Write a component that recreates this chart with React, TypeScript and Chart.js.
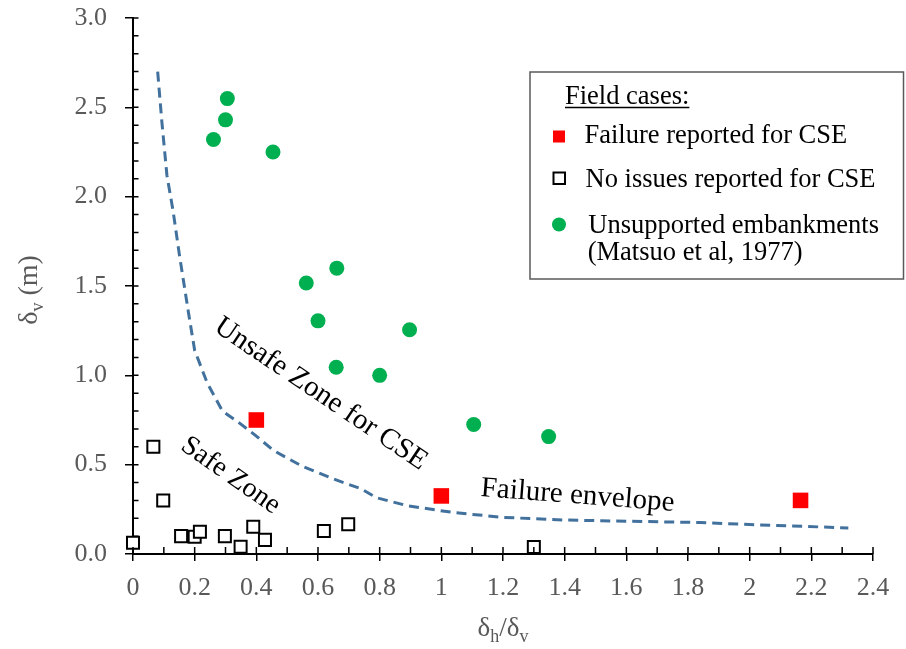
import React, { useEffect, useRef } from 'react';
import { Chart, registerables } from 'chart.js';

Chart.register(...registerables);

// ---------- data ----------
const envelopeX = [0.08, 0.093, 0.11, 0.13, 0.15, 0.18, 0.2, 0.24, 0.29, 0.34, 0.4, 0.455, 0.55, 0.65, 0.74, 0.79, 0.89, 1.04, 1.2, 1.4, 1.84, 2.0, 2.32];
const envelopeY = [2.7, 2.43, 2.12, 1.92, 1.68, 1.35, 1.14, 0.96, 0.8, 0.74, 0.66, 0.58, 0.49, 0.42, 0.365, 0.315, 0.27, 0.232, 0.205, 0.19, 0.176, 0.165, 0.146];

const failX = [0.4, 1.0, 2.165];
const failY = [0.75, 0.325, 0.3];

const noIssueX = [0, 0.066, 0.098, 0.156, 0.2, 0.217, 0.298, 0.349, 0.39, 0.428, 0.619, 0.698, 1.3];
const noIssueY = [0.063, 0.6, 0.3, 0.1, 0.096, 0.124, 0.1, 0.04, 0.153, 0.079, 0.129, 0.167, 0.039];

const embankX = [0.306, 0.3, 0.261, 0.454, 0.661, 0.562, 0.6, 0.897, 0.659, 0.8, 1.105, 1.348];
const embankY = [2.549, 2.43, 2.32, 2.25, 1.6, 1.517, 1.305, 1.255, 1.045, 1.0, 0.725, 0.657];

const xTickValues = [0, 0.2, 0.4, 0.6, 0.8, 1, 1.2, 1.4, 1.6, 1.8, 2, 2.2, 2.4];
const xTickLabels = ['0', '0.2', '0.4', '0.6', '0.8', '1', '1.2', '1.4', '1.6', '1.8', '2', '2.2', '2.4'];
const yTickValues = [0, 0.5, 1, 1.5, 2, 2.5, 3];
const yTickLabels = ['0.0', '0.5', '1.0', '1.5', '2.0', '2.5', '3.0'];
const xMinorTicks = [0, 0.1, 0.2, 0.3, 0.4, 0.5, 0.6, 0.7, 0.8, 0.9, 1, 1.1, 1.2, 1.3, 1.4, 1.5, 1.6, 1.7, 1.8, 1.9, 2, 2.1, 2.2, 2.3, 2.4];
const yMinorTicks = [0, 0.1, 0.2, 0.3, 0.4, 0.5, 0.6, 0.7, 0.8, 0.9, 1, 1.1, 1.2, 1.3, 1.4, 1.5, 1.6, 1.7, 1.8, 1.9, 2, 2.1, 2.2, 2.3, 2.4, 2.5, 2.6, 2.7, 2.8, 2.9, 3];

const legendTitle = 'Field cases:';
const legendLabels = ['Failure reported for CSE', 'No issues reported for CSE', 'Unsupported embankments', '(Matsuo et al, 1977)'];

const annotations = [
  { text: 'Unsafe Zone for CSE', x: 0.595, y: 0.86, angle: 34, size: 29 },
  { text: 'Safe Zone', x: 0.303, y: 0.405, angle: 35, size: 28 },
  { text: 'Failure envelope', x: 1.44, y: 0.283, angle: 4.4, size: 29 },
];

// ---------- styles ----------
const FONT = '"Liberation Serif", "Times New Roman", serif';
const GRAY = '#595959';
const RED = '#ff0000';
const GREEN = '#00b050';
const BLUE = '#41719c';

type Part = { t: string; s: number; dy?: number };

function partsWidth(ctx: CanvasRenderingContext2D, parts: Part[]) {
  let w = 0;
  for (const p of parts) {
    ctx.font = `${p.s}px ${FONT}`;
    w += ctx.measureText(p.t).width;
  }
  return w;
}
function drawParts(ctx: CanvasRenderingContext2D, parts: Part[], x: number, y: number) {
  let cx = x;
  for (const p of parts) {
    ctx.font = `${p.s}px ${FONT}`;
    ctx.fillText(p.t, cx, y + (p.dy || 0));
    cx += ctx.measureText(p.t).width;
  }
}

const overlayPlugin = {
  id: 'overlay',
  afterDraw(chart: any) {
    const ctx: CanvasRenderingContext2D = chart.ctx;
    const xs = chart.scales.x;
    const ys = chart.scales.y;
    const ca = chart.chartArea;
    ctx.save();

    // inner ticks (major + minor)
    ctx.strokeStyle = '#000';
    ctx.lineWidth = 1.5;
    ctx.beginPath();
    for (const v of xMinorTicks) {
      const px = xs.getPixelForValue(v);
      ctx.moveTo(px, ca.bottom);
      ctx.lineTo(px, ca.bottom - 7);
    }
    for (const v of yMinorTicks) {
      const py = ys.getPixelForValue(v);
      ctx.moveTo(ca.left, py);
      ctx.lineTo(ca.left + 5.5, py);
    }
    ctx.stroke();

    // annotations
    ctx.fillStyle = '#000';
    ctx.textAlign = 'center';
    ctx.textBaseline = 'alphabetic';
    for (const a of annotations) {
      ctx.save();
      ctx.translate(xs.getPixelForValue(a.x), ys.getPixelForValue(a.y));
      ctx.rotate((a.angle * Math.PI) / 180);
      ctx.font = `${a.size}px ${FONT}`;
      ctx.fillText(a.text, 0, 0);
      ctx.restore();
    }

    // axis titles
    ctx.fillStyle = GRAY;
    ctx.textAlign = 'left';
    const yTitle: Part[] = [{ t: 'δ', s: 28 }, { t: 'v', s: 18, dy: 6 }, { t: ' (m)', s: 28 }];
    ctx.save();
    ctx.translate(27, 290);
    ctx.rotate(-Math.PI / 2);
    drawParts(ctx, yTitle, -partsWidth(ctx, yTitle) / 2, 10);
    ctx.restore();

    const xTitle: Part[] = [{ t: 'δ', s: 27 }, { t: 'h', s: 18, dy: 6 }, { t: '/δ', s: 27 }, { t: 'v', s: 18, dy: 6 }];
    drawParts(ctx, xTitle, 503 - partsWidth(ctx, xTitle) / 2, 636);

    // legend
    ctx.strokeStyle = GRAY;
    ctx.lineWidth = 1.5;
    ctx.strokeRect(530, 72, 373.5, 207);
    ctx.fillStyle = '#000';
    ctx.font = `26.5px ${FONT}`;
    ctx.fillText(legendTitle, 565, 104);
    const tw = ctx.measureText(legendTitle).width;
    ctx.strokeStyle = '#000';
    ctx.lineWidth = 1.3;
    ctx.beginPath();
    ctx.moveTo(565, 107.5);
    ctx.lineTo(565 + tw, 107.5);
    ctx.stroke();

    ctx.fillText(legendLabels[0], 584.5, 143);
    ctx.fillText(legendLabels[1], 585.5, 186.7);
    ctx.fillText(legendLabels[2], 588.3, 233);
    ctx.fillText(legendLabels[3], 587.7, 260);

    ctx.fillStyle = RED;
    ctx.fillRect(553, 130.5, 12, 12);
    ctx.fillStyle = '#fff';
    ctx.strokeStyle = '#000';
    ctx.lineWidth = 2;
    ctx.fillRect(553.5, 172.5, 11.5, 11.5);
    ctx.strokeRect(553.5, 172.5, 11.5, 11.5);
    ctx.fillStyle = GREEN;
    ctx.beginPath();
    ctx.arc(559, 224.5, 7, 0, Math.PI * 2);
    ctx.fill();

    ctx.restore();
  },
};

export default function App() {
  const ref = useRef<HTMLCanvasElement | null>(null);

  useEffect(() => {
    if (!ref.current) return;
    const chart = new Chart(ref.current, {
      type: 'scatter',
      data: {
        datasets: [
          {
            label: 'Failure envelope',
            data: envelopeX.map((x, i) => ({ x, y: envelopeY[i] })),
            showLine: true,
            borderColor: BLUE,
            borderWidth: 3,
            borderDash: [10, 6],
            pointRadius: 0,
            tension: 0,
            fill: false,
            order: 4,
          } as any,
          {
            label: 'No issues reported for CSE',
            data: noIssueX.map((x, i) => ({ x, y: noIssueY[i] })),
            pointStyle: 'rect',
            pointRadius: 8.5,
            pointBackgroundColor: '#ffffff',
            pointBorderColor: '#000000',
            pointBorderWidth: 2,
            clip: false,
            order: 3,
          } as any,
          {
            label: 'Failure reported for CSE',
            data: failX.map((x, i) => ({ x, y: failY[i] })),
            pointStyle: 'rect',
            pointRadius: 11,
            pointBackgroundColor: RED,
            pointBorderWidth: 0,
            clip: false,
            order: 2,
          } as any,
          {
            label: 'Unsupported embankments (Matsuo et al, 1977)',
            data: embankX.map((x, i) => ({ x, y: embankY[i] })),
            pointStyle: 'circle',
            pointRadius: 7.5,
            pointBackgroundColor: GREEN,
            pointBorderWidth: 0,
            clip: false,
            order: 1,
          } as any,
        ],
      },
      options: {
        responsive: false,
        animation: false,
        devicePixelRatio: 1,
        layout: { autoPadding: false, padding: { top: 18, right: 33, left: 0, bottom: 0 } },
        plugins: {
          legend: { display: false },
          tooltip: { enabled: false },
          title: { display: false },
        },
        scales: {
          x: {
            type: 'linear',
            min: 0,
            max: 2.4,
            afterBuildTicks: (s: any) => {
              s.ticks = xTickValues.map((v) => ({ value: v }));
            },
            afterFit: (s: any) => {
              s.height = 95;
              s.paddingLeft = 0;
              s.paddingRight = 0;
            },
            ticks: {
              callback: (_v: any, i: number) => xTickLabels[i],
              color: GRAY,
              font: { family: FONT, size: 26 },
              padding: 12,
              maxRotation: 0,
              autoSkip: false,
            },
            grid: { display: true, drawOnChartArea: false, drawTicks: true, tickLength: 7, color: '#000', lineWidth: 1.5 },
            border: { display: true, color: '#000', width: 2 },
          },
          y: {
            type: 'linear',
            min: 0,
            max: 3,
            afterBuildTicks: (s: any) => {
              s.ticks = yTickValues.map((v) => ({ value: v }));
            },
            afterFit: (s: any) => {
              s.width = 133;
              s.paddingTop = 0;
              s.paddingBottom = 0;
            },
            ticks: {
              callback: (_v: any, i: number) => yTickLabels[i],
              color: GRAY,
              font: { family: FONT, size: 26 },
              padding: 18,
              autoSkip: false,
            },
            grid: { display: true, drawOnChartArea: false, drawTicks: true, tickLength: 8, color: '#000', lineWidth: 1.5 },
            border: { display: true, color: '#000', width: 2 },
          },
        },
      },
      plugins: [overlayPlugin],
    });
    return () => chart.destroy();
  }, []);

  return (
    <div style={{ position: 'absolute', left: 0, top: 0, width: 906, height: 649, background: '#fff' }}>
      <canvas ref={ref} width={906} height={649} style={{ width: 906, height: 649, display: 'block' }} />
    </div>
  );
}
